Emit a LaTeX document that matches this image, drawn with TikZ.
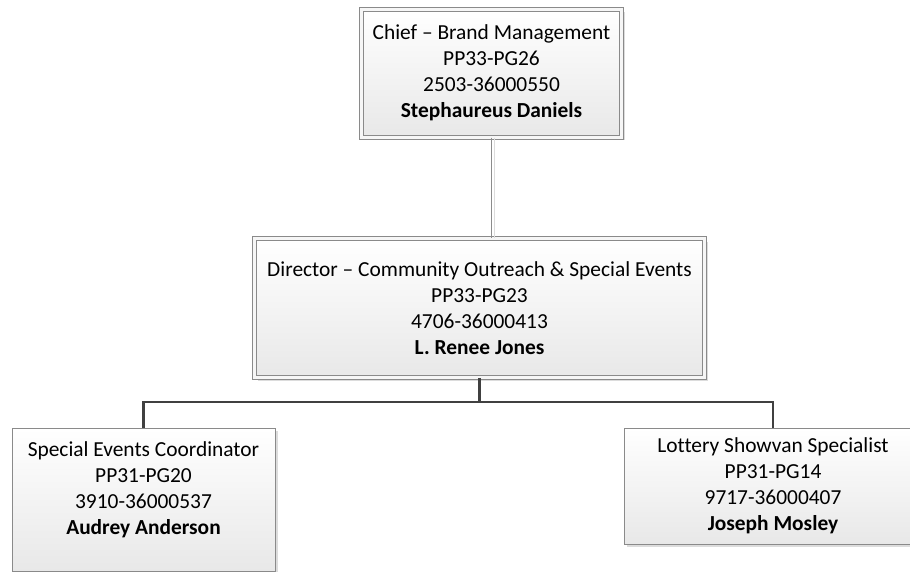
\documentclass[tikz,border=0pt]{standalone}
\usepackage{fontspec}
\setmainfont{Carlito}[Ligatures=NoCommon]
\usetikzlibrary{shadows}
\definecolor{boxline}{HTML}{8A8A8A}
\definecolor{boxgap}{HTML}{F6F6F6}
\definecolor{boxshade}{HTML}{E8E8E8}
\definecolor{shadowc}{HTML}{DCDCDC}
\definecolor{linkline}{HTML}{8C8C8C}
\definecolor{busline}{HTML}{404040}
\tikzset{
  orgtext/.style={font=\fontsize{21.4}{26}\selectfont, align=center, text=black},
  boxshadow/.style={drop shadow={shadow xshift=3pt, shadow yshift=-3pt, fill=shadowc, opacity=1}},
  dblbox/.style={draw=boxline, line width=1pt, double=boxgap, double distance=3pt,
    top color=white, bottom color=boxshade, boxshadow, inner sep=0pt, orgtext},
  sglbox/.style={draw=boxline, line width=1pt,
    top color=white, bottom color=boxshade, boxshadow, inner sep=0pt, orgtext},
  link/.style={draw=linkline, line width=1.3pt},
  linkshade/.style={draw=shadowc, line width=1pt},
  bus/.style={draw=busline, line width=2.4pt}
}
\begin{document}
\begin{tikzpicture}[x=1pt, y=-1pt]
  \useasboundingbox (0,0) rectangle (910,572);

  % the four position boxes
  \node[dblbox, minimum width=260pt, minimum height=128pt] (chief) at (491.5,73.25)
    {Chief – Brand Management\\PP33-PG26\\2503-36000550\\\textbf{Stephaureus Daniels}};
  \node[dblbox, minimum width=450pt, minimum height=139pt] (director) at (479.5,308)
    {Director – Community Outreach \& Special Events\\PP33-PG23\\4706-36000413\\\textbf{L. Renee Jones}};
  \node[sglbox, minimum width=263pt, minimum height=143.5pt] (coord) at (143.5,499.75)
    {Special Events Coordinator\\PP31-PG20\\3910-36000537\\\textbf{Audrey Anderson}\rule[-24pt]{0pt}{0pt}};
  \node[sglbox, minimum width=298pt, minimum height=116pt] (showvan) at (773,486)
    {Lottery Showvan Specialist\\PP31-PG14\\9717-36000407\\\textbf{Joseph Mosley}};

  % chief to director
  \draw[linkshade] ([xshift=3pt]chief.south) -- ([xshift=3pt]chief.south |- director.north);
  \draw[link] (chief.south) -- (chief.south |- director.north);

  % director to the two reports
  \coordinate (busjoin) at ([yshift=-24pt]director.south);
  \draw[bus] (director.south) -- (busjoin);
  \draw[bus] (coord.north) |- (busjoin) -| (showvan.north);
\end{tikzpicture}
\end{document}
